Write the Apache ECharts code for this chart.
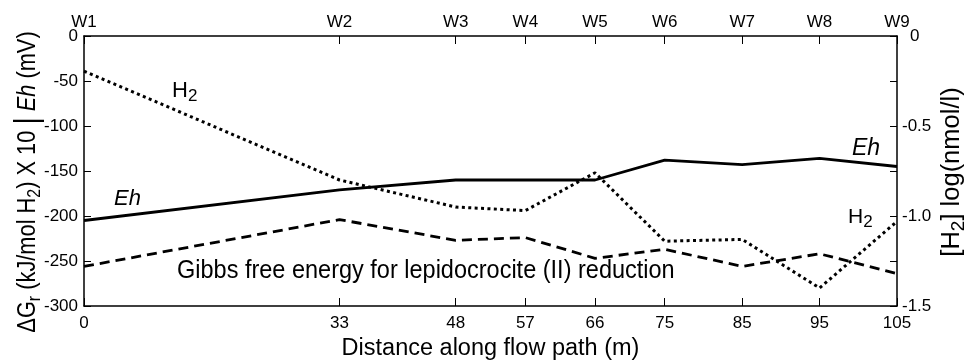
<!DOCTYPE html>
<html>
<head>
<meta charset="utf-8">
<script src="https://cdn.jsdelivr.net/npm/echarts@6/dist/echarts.min.js"></script>
<style>
  html, body { margin: 0; padding: 0; background: #fff; }
  #chart { width: 968px; height: 362px; }
</style>
</head>
<body>
<div id="chart"></div>
<script>
// Sampling wells along the flow path and their distances (m)
const distances = [0, 33, 48, 57, 66, 75, 85, 95, 105];
const wells = ['W1', 'W2', 'W3', 'W4', 'W5', 'W6', 'W7', 'W8', 'W9'];

// Redox potential Eh (mV), left axis
const ehValues = [-205, -171, -160, -160, -160, -138, -143, -136, -145];
// Gibbs free energy for lepidocrocite (II) reduction, kJ/mol H2 x 10, left axis
const gibbsValues = [-256, -204, -227, -224, -247, -237, -256, -242, -264];
// Dissolved hydrogen, log(nmol/l), right axis
const h2Values = [-0.195, -0.80, -0.95, -0.97, -0.76, -1.14, -1.13, -1.40, -1.03];

// Axis ranges
const leftMin = -300, leftMax = 0, leftStep = 50;
const rightMin = -1.5, rightMax = 0, rightStep = 0.25;
const rightLabelValues = [0, -0.5, -1.0, -1.5];

const FONT = '"Liberation Sans", Arial, Helvetica, sans-serif';
const INK = '#000';

const pairs = vals => distances.map((d, i) => [d, vals[i]]);

const axisLineStyle = { show: true, onZero: false, lineStyle: { color: INK, width: 1.5 } };
const tickStyle = { lineStyle: { color: INK, width: 1 } };
const subRich = size => ({ fontSize: size, fontFamily: FONT, lineHeight: size, verticalAlign: 'bottom', fill: INK });

const chart = echarts.init(document.getElementById('chart'), null, { renderer: 'canvas' });

chart.setOption({
  animation: false,
  backgroundColor: '#fff',
  grid: { left: 84, right: 71, top: 36, bottom: 56, containLabel: false, outerBoundsMode: 'none' },
  xAxis: [
    {
      type: 'value', position: 'bottom', min: 0, max: 105,
      axisLine: axisLineStyle,
      axisTick: Object.assign({ show: true, inside: true, length: 8, customValues: distances }, tickStyle),
      axisLabel: { show: true, customValues: distances, margin: 9, color: INK, fontSize: 17, fontFamily: FONT },
      splitLine: { show: false },
      name: 'Distance along flow path (m)', nameLocation: 'middle', nameGap: 31,
      nameTextStyle: { color: INK, fontSize: 23.5, fontFamily: FONT, verticalAlign: 'top' }
    },
    {
      type: 'value', position: 'top', min: 0, max: 105,
      axisLine: axisLineStyle,
      axisTick: Object.assign({ show: true, inside: true, length: 8, customValues: distances }, tickStyle),
      axisLabel: {
        show: true, customValues: distances, margin: 5, color: INK, fontSize: 17, fontFamily: FONT,
        formatter: v => wells[distances.indexOf(v)] || ''
      },
      splitLine: { show: false }
    }
  ],
  yAxis: [
    {
      type: 'value', position: 'left', min: leftMin, max: leftMax, interval: leftStep,
      axisLine: axisLineStyle,
      axisTick: Object.assign({ show: true, inside: true, length: 7 }, tickStyle),
      axisLabel: { show: true, margin: 6, color: INK, fontSize: 17, fontFamily: FONT },
      splitLine: { show: false }
    },
    {
      type: 'value', position: 'right', min: rightMin, max: rightMax, interval: rightStep,
      axisLine: axisLineStyle,
      axisTick: Object.assign({ show: true, inside: true, length: 7 }, tickStyle),
      axisLabel: {
        show: true, margin: 5, color: INK, fontSize: 17, fontFamily: FONT,
        customValues: rightLabelValues,
        formatter: v => (v === 0 ? '{z|0}' : v.toFixed(1)),
        rich: { z: { fontSize: 17, fontFamily: FONT, color: INK, padding: [0, 0, 0, 8] } }
      },
      splitLine: { show: false }
    }
  ],
  series: [
    {
      name: 'Eh', type: 'line', xAxisIndex: 0, yAxisIndex: 0,
      data: pairs(ehValues), symbol: 'none',
      lineStyle: { color: INK, width: 2.8, type: 'solid' }
    },
    {
      name: 'Gibbs', type: 'line', xAxisIndex: 0, yAxisIndex: 0,
      data: pairs(gibbsValues), symbol: 'none',
      lineStyle: { color: INK, width: 2.8, type: [10, 6] }
    },
    {
      name: 'H2', type: 'line', xAxisIndex: 0, yAxisIndex: 1,
      data: pairs(h2Values), symbol: 'none',
      lineStyle: { color: INK, width: 3, type: [3, 3.4] }
    }
  ],
  graphic: [
    // left axis title
    {
      type: 'text', x: 28, y: 182, rotation: Math.PI / 2, scaleY: 1.2,
      style: {
        text: '{a|ΔG}{s|r}{a| (kJ/mol H}{s|2}{a|) X 10 }{b||}{a| }{i|Eh}{a| (mV)}',
        align: 'center', verticalAlign: 'middle', fill: INK,
        rich: {
          a: { fontSize: 21.8, fontFamily: FONT, lineHeight: 28, fill: INK },
          b: { fontSize: 28, fontFamily: FONT, lineHeight: 28, fill: INK },
          i: { fontSize: 21.8, fontFamily: FONT, fontStyle: 'italic', lineHeight: 28, fill: INK },
          s: subRich(16)
        }
      }
    },
    // right axis title
    {
      type: 'text', x: 952, y: 172, rotation: Math.PI / 2,
      style: {
        text: '{a|[H}{s|2}{a|] log(nmol/l)}',
        align: 'center', verticalAlign: 'middle', fill: INK,
        rich: {
          a: { fontSize: 25.5, fontFamily: FONT, lineHeight: 32, fill: INK },
          s: subRich(19)
        }
      }
    },
    // curve annotations
    {
      type: 'text', x: 172, y: 91,
      style: {
        text: '{a|H}{s|2}', align: 'left', verticalAlign: 'middle', fill: INK,
        rich: { a: { fontSize: 22, fontFamily: FONT, lineHeight: 28, fill: INK }, s: subRich(17) }
      }
    },
    {
      type: 'text', x: 848, y: 217,
      style: {
        text: '{a|H}{s|2}', align: 'left', verticalAlign: 'middle', fill: INK,
        rich: { a: { fontSize: 21, fontFamily: FONT, lineHeight: 28, fill: INK }, s: subRich(17) }
      }
    },
    {
      type: 'text', x: 114, y: 199,
      style: { text: 'Eh', fontSize: 22, fontStyle: 'italic', fontFamily: FONT, fill: INK, align: 'left', verticalAlign: 'middle' }
    },
    {
      type: 'text', x: 852, y: 149,
      style: { text: 'Eh', fontSize: 23, fontStyle: 'italic', fontFamily: FONT, fill: INK, align: 'left', verticalAlign: 'middle' }
    },
    {
      type: 'text', x: 177, y: 271, scaleY: 1.1,
      style: { text: 'Gibbs free energy for lepidocrocite (II) reduction', fontSize: 23.5, fontFamily: FONT, fill: INK, align: 'left', verticalAlign: 'middle' }
    }
  ]
});
</script>
</body>
</html>
